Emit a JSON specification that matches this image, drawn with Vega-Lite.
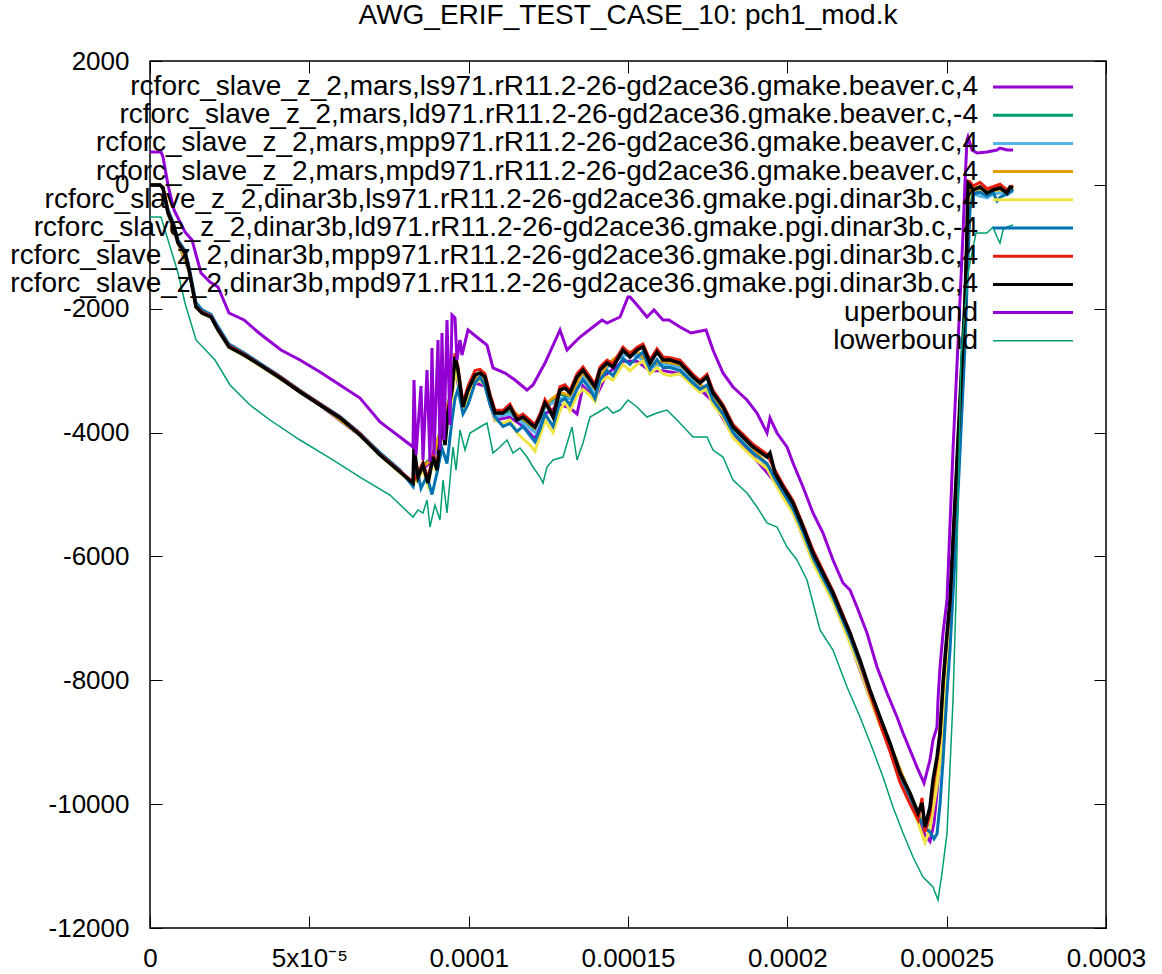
{
"$schema": "https://vega.github.io/schema/vega-lite/v6.json",
"width": 956, "height": 867,
"autosize": {"type": "none"},
"padding": {"left": 150, "top": 61, "right": 56, "bottom": 46},
"background": "white",
"title": {"text": "AWG_ERIF_TEST_CASE_10: pch1_mod.k", "fontSize": 28, "font": "Liberation Sans", "fontWeight": "normal", "color": "black", "anchor": "middle", "offset": 18},
"datasets": {
"names": [
{"k":1,"name":"rcforc_slave_z_2,mars,ls971.rR11.2-26-gd2ace36.gmake.beaver.c,4"},
{"k":2,"name":"rcforc_slave_z_2,mars,ld971.rR11.2-26-gd2ace36.gmake.beaver.c,-4"},
{"k":3,"name":"rcforc_slave_z_2,mars,mpp971.rR11.2-26-gd2ace36.gmake.beaver.c,4"},
{"k":4,"name":"rcforc_slave_z_2,mars,mpd971.rR11.2-26-gd2ace36.gmake.beaver.c,4"},
{"k":5,"name":"rcforc_slave_z_2,dinar3b,ls971.rR11.2-26-gd2ace36.gmake.pgi.dinar3b.c,4"},
{"k":6,"name":"rcforc_slave_z_2,dinar3b,ld971.rR11.2-26-gd2ace36.gmake.pgi.dinar3b.c,-4"},
{"k":7,"name":"rcforc_slave_z_2,dinar3b,mpp971.rR11.2-26-gd2ace36.gmake.pgi.dinar3b.c,4"},
{"k":8,"name":"rcforc_slave_z_2,dinar3b,mpd971.rR11.2-26-gd2ace36.gmake.pgi.dinar3b.c,4"},
{"k":9,"name":"uperbound"},
{"k":10,"name":"lowerbound"}
],
"pts": [
{"k":1,"x":0,"y":-2},{"k":1,"x":3.14e-6,"y":-2},{"k":1,"x":4.08e-6,"y":-50},{"k":1,"x":5.65e-6,"y":-460},{"k":1,"x":8.79e-6,"y":-940},{"k":1,"x":12.24e-6,"y":-1380},{"k":1,"x":14.44e-6,"y":-1970},{"k":1,"x":19.14e-6,"y":-2140},{"k":1,"x":24.79e-6,"y":-2620},{"k":1,"x":29.5e-6,"y":-2750},{"k":1,"x":40.8e-6,"y":-3120},{"k":1,"x":53.35e-6,"y":-3560},{"k":1,"x":65.9e-6,"y":-4050},{"k":1,"x":78.45e-6,"y":-4640},{"k":1,"x":82.53e-6,"y":-4830},{"k":1,"x":85.67e-6,"y":-4580},{"k":1,"x":88.81e-6,"y":-4450},{"k":1,"x":91.63e-6,"y":-3950},{"k":1,"x":94.77e-6,"y":-3400},{"k":1,"x":95.71e-6,"y":-2950},{"k":1,"x":98.22e-6,"y":-3650},{"k":1,"x":101.99e-6,"y":-3200},{"k":1,"x":105.13e-6,"y":-3250},{"k":1,"x":108.26e-6,"y":-3800},{"k":1,"x":112.97e-6,"y":-3750},{"k":1,"x":117.05e-6,"y":-3900},{"k":1,"x":120.82e-6,"y":-4100},{"k":1,"x":123.95e-6,"y":-3700},{"k":1,"x":128.66e-6,"y":-3550},{"k":1,"x":131.8e-6,"y":-3600},{"k":1,"x":134e-6,"y":-3700},{"k":1,"x":135.88e-6,"y":-3250},{"k":1,"x":139.65e-6,"y":-3450},{"k":1,"x":143.41e-6,"y":-3050},{"k":1,"x":148.43e-6,"y":-2850},{"k":1,"x":152.83e-6,"y":-2850},{"k":1,"x":156.91e-6,"y":-3000},{"k":1,"x":160.98e-6,"y":-3000},{"k":1,"x":166.32e-6,"y":-3050},{"k":1,"x":172.6e-6,"y":-3300},{"k":1,"x":176.67e-6,"y":-3500},{"k":1,"x":182.95e-6,"y":-4050},{"k":1,"x":189.23e-6,"y":-4380},{"k":1,"x":196.13e-6,"y":-4800},{"k":1,"x":201.78e-6,"y":-5280},{"k":1,"x":208.06e-6,"y":-6080},{"k":1,"x":214.33e-6,"y":-6720},{"k":1,"x":219.67e-6,"y":-7380},{"k":1,"x":225.94e-6,"y":-8290},{"k":1,"x":232.22e-6,"y":-9130},{"k":1,"x":238.5e-6,"y":-9950},{"k":1,"x":243.2e-6,"y":-10500},{"k":1,"x":244.77e-6,"y":-10600},{"k":1,"x":246.03e-6,"y":-10300},{"k":1,"x":246.97e-6,"y":-9800},{"k":1,"x":248.85e-6,"y":-8700},{"k":1,"x":251.05e-6,"y":-7200},{"k":1,"x":252.62e-6,"y":-5600},{"k":1,"x":254.19e-6,"y":-3900},{"k":1,"x":255.75e-6,"y":-2300},{"k":1,"x":256.69e-6,"y":-900},{"k":1,"x":257.32e-6,"y":-200},{"k":1,"x":258.26e-6,"y":-100},{"k":1,"x":260.46e-6,"y":-90},{"k":1,"x":262.66e-6,"y":-140},{"k":1,"x":264.54e-6,"y":-100},{"k":1,"x":266.74e-6,"y":-90},{"k":1,"x":268.93e-6,"y":-130},{"k":1,"x":270.82e-6,"y":-70},
{"k":2,"x":0,"y":-2},{"k":2,"x":3.14e-6,"y":-2},{"k":2,"x":4.08e-6,"y":-45},{"k":2,"x":5.65e-6,"y":-440},{"k":2,"x":8.79e-6,"y":-920},{"k":2,"x":12.24e-6,"y":-1360},{"k":2,"x":14.44e-6,"y":-1950},{"k":2,"x":19.14e-6,"y":-2120},{"k":2,"x":24.79e-6,"y":-2600},{"k":2,"x":29.5e-6,"y":-2730},{"k":2,"x":40.8e-6,"y":-3100},{"k":2,"x":53.35e-6,"y":-3540},{"k":2,"x":65.9e-6,"y":-4030},{"k":2,"x":78.45e-6,"y":-4620},{"k":2,"x":82.53e-6,"y":-4820},{"k":2,"x":85.67e-6,"y":-4540},{"k":2,"x":88.81e-6,"y":-4380},{"k":2,"x":91.63e-6,"y":-3870},{"k":2,"x":94.77e-6,"y":-3300},{"k":2,"x":95.71e-6,"y":-2850},{"k":2,"x":98.22e-6,"y":-3600},{"k":2,"x":101.99e-6,"y":-3120},{"k":2,"x":105.13e-6,"y":-3170},{"k":2,"x":108.26e-6,"y":-3720},{"k":2,"x":112.97e-6,"y":-3650},{"k":2,"x":117.05e-6,"y":-3800},{"k":2,"x":120.82e-6,"y":-3950},{"k":2,"x":123.95e-6,"y":-3580},{"k":2,"x":128.66e-6,"y":-3380},{"k":2,"x":131.8e-6,"y":-3420},{"k":2,"x":135.88e-6,"y":-3050},{"k":2,"x":139.65e-6,"y":-3300},{"k":2,"x":143.41e-6,"y":-2920},{"k":2,"x":148.43e-6,"y":-2720},{"k":2,"x":152.83e-6,"y":-2710},{"k":2,"x":156.91e-6,"y":-2920},{"k":2,"x":160.98e-6,"y":-2870},{"k":2,"x":166.32e-6,"y":-2920},{"k":2,"x":172.6e-6,"y":-3230},{"k":2,"x":176.67e-6,"y":-3400},{"k":2,"x":182.95e-6,"y":-3930},{"k":2,"x":189.23e-6,"y":-4260},{"k":2,"x":196.13e-6,"y":-4680},{"k":2,"x":201.78e-6,"y":-5160},{"k":2,"x":208.06e-6,"y":-5970},{"k":2,"x":214.33e-6,"y":-6610},{"k":2,"x":219.67e-6,"y":-7260},{"k":2,"x":225.94e-6,"y":-8180},{"k":2,"x":232.22e-6,"y":-9040},{"k":2,"x":238.5e-6,"y":-9850},{"k":2,"x":243.2e-6,"y":-10380},{"k":2,"x":244.77e-6,"y":-10250},{"k":2,"x":246.97e-6,"y":-9500},{"k":2,"x":248.85e-6,"y":-8300},{"k":2,"x":251.05e-6,"y":-7000},{"k":2,"x":252.62e-6,"y":-5400},{"k":2,"x":254.19e-6,"y":-3700},{"k":2,"x":255.75e-6,"y":-2100},{"k":2,"x":256.69e-6,"y":-500},{"k":2,"x":257.32e-6,"y":-100},{"k":2,"x":258.26e-6,"y":-90},{"k":2,"x":260.46e-6,"y":-70},{"k":2,"x":262.66e-6,"y":-120},{"k":2,"x":264.54e-6,"y":-90},{"k":2,"x":266.74e-6,"y":-70},{"k":2,"x":268.93e-6,"y":-120},{"k":2,"x":270.82e-6,"y":-50},
{"k":3,"x":0,"y":-2},{"k":3,"x":3.14e-6,"y":-2},{"k":3,"x":4.08e-6,"y":-50},{"k":3,"x":5.65e-6,"y":-450},{"k":3,"x":8.79e-6,"y":-930},{"k":3,"x":12.24e-6,"y":-1370},{"k":3,"x":14.44e-6,"y":-1960},{"k":3,"x":19.14e-6,"y":-2130},{"k":3,"x":24.79e-6,"y":-2610},{"k":3,"x":29.5e-6,"y":-2740},{"k":3,"x":40.8e-6,"y":-3110},{"k":3,"x":53.35e-6,"y":-3550},{"k":3,"x":65.9e-6,"y":-4040},{"k":3,"x":78.45e-6,"y":-4630},{"k":3,"x":82.53e-6,"y":-4820},{"k":3,"x":85.67e-6,"y":-4550},{"k":3,"x":88.81e-6,"y":-4420},{"k":3,"x":91.63e-6,"y":-3900},{"k":3,"x":94.77e-6,"y":-3350},{"k":3,"x":95.71e-6,"y":-2900},{"k":3,"x":98.22e-6,"y":-3620},{"k":3,"x":101.99e-6,"y":-3150},{"k":3,"x":105.13e-6,"y":-3200},{"k":3,"x":108.26e-6,"y":-3750},{"k":3,"x":112.97e-6,"y":-3700},{"k":3,"x":117.05e-6,"y":-3850},{"k":3,"x":120.82e-6,"y":-4000},{"k":3,"x":123.95e-6,"y":-3600},{"k":3,"x":128.66e-6,"y":-3450},{"k":3,"x":131.8e-6,"y":-3450},{"k":3,"x":135.88e-6,"y":-3100},{"k":3,"x":139.65e-6,"y":-3350},{"k":3,"x":143.41e-6,"y":-2950},{"k":3,"x":148.43e-6,"y":-2750},{"k":3,"x":152.83e-6,"y":-2750},{"k":3,"x":156.91e-6,"y":-2950},{"k":3,"x":160.98e-6,"y":-2900},{"k":3,"x":166.32e-6,"y":-2950},{"k":3,"x":172.6e-6,"y":-3250},{"k":3,"x":176.67e-6,"y":-3420},{"k":3,"x":182.95e-6,"y":-3950},{"k":3,"x":189.23e-6,"y":-4280},{"k":3,"x":196.13e-6,"y":-4700},{"k":3,"x":201.78e-6,"y":-5180},{"k":3,"x":208.06e-6,"y":-5990},{"k":3,"x":214.33e-6,"y":-6630},{"k":3,"x":219.67e-6,"y":-7280},{"k":3,"x":225.94e-6,"y":-8200},{"k":3,"x":232.22e-6,"y":-9060},{"k":3,"x":238.5e-6,"y":-9870},{"k":3,"x":243.2e-6,"y":-10400},{"k":3,"x":244.77e-6,"y":-10300},{"k":3,"x":246.97e-6,"y":-9600},{"k":3,"x":248.85e-6,"y":-8500},{"k":3,"x":251.05e-6,"y":-7200},{"k":3,"x":252.62e-6,"y":-5500},{"k":3,"x":254.19e-6,"y":-3800},{"k":3,"x":255.75e-6,"y":-2200},{"k":3,"x":256.69e-6,"y":-800},{"k":3,"x":257.32e-6,"y":-200},{"k":3,"x":258.26e-6,"y":-150},{"k":3,"x":260.46e-6,"y":-180},{"k":3,"x":262.66e-6,"y":-210},{"k":3,"x":264.54e-6,"y":-150},{"k":3,"x":266.74e-6,"y":-130},{"k":3,"x":268.93e-6,"y":-160},{"k":3,"x":270.82e-6,"y":-100},
{"k":4,"x":0,"y":-2},{"k":4,"x":3.14e-6,"y":-2},{"k":4,"x":4.08e-6,"y":-50},{"k":4,"x":5.65e-6,"y":-450},{"k":4,"x":8.79e-6,"y":-930},{"k":4,"x":12.24e-6,"y":-1370},{"k":4,"x":14.44e-6,"y":-1960},{"k":4,"x":19.14e-6,"y":-2130},{"k":4,"x":24.79e-6,"y":-2610},{"k":4,"x":29.5e-6,"y":-2740},{"k":4,"x":40.8e-6,"y":-3110},{"k":4,"x":53.35e-6,"y":-3550},{"k":4,"x":65.9e-6,"y":-4040},{"k":4,"x":78.45e-6,"y":-4630},{"k":4,"x":82.53e-6,"y":-4830},{"k":4,"x":85.67e-6,"y":-4560},{"k":4,"x":88.81e-6,"y":-4400},{"k":4,"x":91.63e-6,"y":-3880},{"k":4,"x":94.77e-6,"y":-3320},{"k":4,"x":95.71e-6,"y":-2820},{"k":4,"x":98.22e-6,"y":-3600},{"k":4,"x":101.99e-6,"y":-3100},{"k":4,"x":105.13e-6,"y":-3150},{"k":4,"x":108.26e-6,"y":-3700},{"k":4,"x":112.97e-6,"y":-3620},{"k":4,"x":117.05e-6,"y":-3780},{"k":4,"x":120.82e-6,"y":-3930},{"k":4,"x":123.95e-6,"y":-3550},{"k":4,"x":128.66e-6,"y":-3350},{"k":4,"x":131.8e-6,"y":-3400},{"k":4,"x":135.88e-6,"y":-3020},{"k":4,"x":139.65e-6,"y":-3290},{"k":4,"x":143.41e-6,"y":-2900},{"k":4,"x":148.43e-6,"y":-2700},{"k":4,"x":152.83e-6,"y":-2690},{"k":4,"x":156.91e-6,"y":-2900},{"k":4,"x":160.98e-6,"y":-2850},{"k":4,"x":166.32e-6,"y":-2900},{"k":4,"x":172.6e-6,"y":-3220},{"k":4,"x":176.67e-6,"y":-3380},{"k":4,"x":182.95e-6,"y":-3920},{"k":4,"x":189.23e-6,"y":-4250},{"k":4,"x":196.13e-6,"y":-4670},{"k":4,"x":201.78e-6,"y":-5150},{"k":4,"x":208.06e-6,"y":-5960},{"k":4,"x":214.33e-6,"y":-6600},{"k":4,"x":219.67e-6,"y":-7250},{"k":4,"x":225.94e-6,"y":-8170},{"k":4,"x":232.22e-6,"y":-9030},{"k":4,"x":238.5e-6,"y":-9840},{"k":4,"x":243.2e-6,"y":-10400},{"k":4,"x":244.77e-6,"y":-10200},{"k":4,"x":246.97e-6,"y":-9400},{"k":4,"x":248.85e-6,"y":-8200},{"k":4,"x":251.05e-6,"y":-6900},{"k":4,"x":252.62e-6,"y":-5300},{"k":4,"x":254.19e-6,"y":-3600},{"k":4,"x":255.75e-6,"y":-2000},{"k":4,"x":256.69e-6,"y":-300},{"k":4,"x":257.32e-6,"y":-50},{"k":4,"x":258.26e-6,"y":-60},{"k":4,"x":260.46e-6,"y":-30},{"k":4,"x":262.66e-6,"y":-100},{"k":4,"x":264.54e-6,"y":-60},{"k":4,"x":266.74e-6,"y":-40},{"k":4,"x":268.93e-6,"y":-110},{"k":4,"x":270.82e-6,"y":-40},
{"k":5,"x":0,"y":-2},{"k":5,"x":3.14e-6,"y":-2},{"k":5,"x":4.08e-6,"y":-60},{"k":5,"x":5.65e-6,"y":-460},{"k":5,"x":7.53e-6,"y":-690},{"k":5,"x":8.79e-6,"y":-950},{"k":5,"x":10.98e-6,"y":-1110},{"k":5,"x":12.24e-6,"y":-1390},{"k":5,"x":14.44e-6,"y":-1980},{"k":5,"x":16.32e-6,"y":-2080},{"k":5,"x":19.14e-6,"y":-2140},{"k":5,"x":21.34e-6,"y":-2350},{"k":5,"x":24.79e-6,"y":-2630},{"k":5,"x":29.5e-6,"y":-2760},{"k":5,"x":34.52e-6,"y":-2920},{"k":5,"x":40.8e-6,"y":-3130},{"k":5,"x":47.07e-6,"y":-3350},{"k":5,"x":53.35e-6,"y":-3560},{"k":5,"x":59.62e-6,"y":-3770},{"k":5,"x":65.9e-6,"y":-4050},{"k":5,"x":72.18e-6,"y":-4370},{"k":5,"x":78.45e-6,"y":-4650},{"k":5,"x":82.53e-6,"y":-4830},{"k":5,"x":84.1e-6,"y":-4750},{"k":5,"x":85.67e-6,"y":-4600},{"k":5,"x":87.24e-6,"y":-4850},{"k":5,"x":88.81e-6,"y":-4450},{"k":5,"x":90.06e-6,"y":-4650},{"k":5,"x":91.63e-6,"y":-3950},{"k":5,"x":93.51e-6,"y":-3800},{"k":5,"x":94.77e-6,"y":-3450},{"k":5,"x":95.71e-6,"y":-3000},{"k":5,"x":96.65e-6,"y":-3150},{"k":5,"x":98.22e-6,"y":-3650},{"k":5,"x":99.79e-6,"y":-3450},{"k":5,"x":101.99e-6,"y":-3200},{"k":5,"x":103.56e-6,"y":-3150},{"k":5,"x":105.13e-6,"y":-3250},{"k":5,"x":106.7e-6,"y":-3500},{"k":5,"x":108.26e-6,"y":-3800},{"k":5,"x":110.78e-6,"y":-3850},{"k":5,"x":112.97e-6,"y":-3800},{"k":5,"x":115.17e-6,"y":-4000},{"k":5,"x":117.05e-6,"y":-4100},{"k":5,"x":119.25e-6,"y":-4200},{"k":5,"x":120.82e-6,"y":-4300},{"k":5,"x":122.39e-6,"y":-4050},{"k":5,"x":123.95e-6,"y":-3800},{"k":5,"x":126.47e-6,"y":-4000},{"k":5,"x":128.66e-6,"y":-3650},{"k":5,"x":130.23e-6,"y":-3500},{"k":5,"x":131.8e-6,"y":-3650},{"k":5,"x":134e-6,"y":-3400},{"k":5,"x":135.88e-6,"y":-3300},{"k":5,"x":138.08e-6,"y":-3400},{"k":5,"x":139.65e-6,"y":-3500},{"k":5,"x":141.21e-6,"y":-3200},{"k":5,"x":143.41e-6,"y":-3100},{"k":5,"x":145.29e-6,"y":-3150},{"k":5,"x":148.43e-6,"y":-2900},{"k":5,"x":150.63e-6,"y":-3000},{"k":5,"x":152.83e-6,"y":-2900},{"k":5,"x":154.71e-6,"y":-2850},{"k":5,"x":156.91e-6,"y":-3050},{"k":5,"x":159.1e-6,"y":-2950},{"k":5,"x":160.98e-6,"y":-3050},{"k":5,"x":163.18e-6,"y":-3080},{"k":5,"x":166.32e-6,"y":-3050},{"k":5,"x":170.4e-6,"y":-3250},{"k":5,"x":172.6e-6,"y":-3350},{"k":5,"x":174.79e-6,"y":-3300},{"k":5,"x":176.67e-6,"y":-3550},{"k":5,"x":179.81e-6,"y":-3750},{"k":5,"x":182.95e-6,"y":-4080},{"k":5,"x":186.09e-6,"y":-4250},{"k":5,"x":189.23e-6,"y":-4400},{"k":5,"x":193.62e-6,"y":-4580},{"k":5,"x":196.13e-6,"y":-4820},{"k":5,"x":198.64e-6,"y":-5050},{"k":5,"x":201.78e-6,"y":-5300},{"k":5,"x":204.92e-6,"y":-5680},{"k":5,"x":208.06e-6,"y":-6100},{"k":5,"x":211.19e-6,"y":-6420},{"k":5,"x":214.33e-6,"y":-6740},{"k":5,"x":216.53e-6,"y":-7000},{"k":5,"x":219.67e-6,"y":-7400},{"k":5,"x":222.81e-6,"y":-7820},{"k":5,"x":225.94e-6,"y":-8300},{"k":5,"x":229.08e-6,"y":-8720},{"k":5,"x":232.22e-6,"y":-9120},{"k":5,"x":235.36e-6,"y":-9620},{"k":5,"x":238.5e-6,"y":-9960},{"k":5,"x":241.01e-6,"y":-10300},{"k":5,"x":243.2e-6,"y":-10620},{"k":5,"x":244.77e-6,"y":-10400},{"k":5,"x":245.71e-6,"y":-10100},{"k":5,"x":246.97e-6,"y":-9700},{"k":5,"x":247.91e-6,"y":-9300},{"k":5,"x":248.85e-6,"y":-8600},{"k":5,"x":250.11e-6,"y":-7700},{"k":5,"x":251.05e-6,"y":-7100},{"k":5,"x":252.62e-6,"y":-5600},{"k":5,"x":254.19e-6,"y":-3900},{"k":5,"x":255.75e-6,"y":-2300},{"k":5,"x":256.69e-6,"y":-900},{"k":5,"x":257.32e-6,"y":-250},{"k":5,"x":258.26e-6,"y":-100},{"k":5,"x":260.46e-6,"y":-60},{"k":5,"x":262.66e-6,"y":-150},{"k":5,"x":264.54e-6,"y":-100},{"k":5,"x":266.74e-6,"y":-80},{"k":5,"x":268.93e-6,"y":-120},{"k":5,"x":270.82e-6,"y":-60},
{"k":6,"x":0,"y":-2},{"k":6,"x":3.14e-6,"y":-2},{"k":6,"x":4.08e-6,"y":-40},{"k":6,"x":5.65e-6,"y":-400},{"k":6,"x":7.53e-6,"y":-640},{"k":6,"x":8.79e-6,"y":-890},{"k":6,"x":10.98e-6,"y":-1060},{"k":6,"x":12.24e-6,"y":-1320},{"k":6,"x":14.44e-6,"y":-1900},{"k":6,"x":16.32e-6,"y":-2020},{"k":6,"x":19.14e-6,"y":-2090},{"k":6,"x":21.34e-6,"y":-2290},{"k":6,"x":24.79e-6,"y":-2570},{"k":6,"x":29.5e-6,"y":-2710},{"k":6,"x":34.52e-6,"y":-2880},{"k":6,"x":40.8e-6,"y":-3090},{"k":6,"x":47.07e-6,"y":-3320},{"k":6,"x":53.35e-6,"y":-3530},{"k":6,"x":59.62e-6,"y":-3740},{"k":6,"x":65.9e-6,"y":-4010},{"k":6,"x":72.18e-6,"y":-4330},{"k":6,"x":78.45e-6,"y":-4600},{"k":6,"x":82.53e-6,"y":-4870},{"k":6,"x":83.47e-6,"y":-4500},{"k":6,"x":85.04e-6,"y":-4900},{"k":6,"x":86.93e-6,"y":-4700},{"k":6,"x":88.49e-6,"y":-5000},{"k":6,"x":90.06e-6,"y":-4650},{"k":6,"x":91.63e-6,"y":-4250},{"k":6,"x":93.2e-6,"y":-4500},{"k":6,"x":94.77e-6,"y":-3800},{"k":6,"x":95.71e-6,"y":-3450},{"k":6,"x":96.65e-6,"y":-3300},{"k":6,"x":98.22e-6,"y":-3700},{"k":6,"x":99.79e-6,"y":-3550},{"k":6,"x":101.99e-6,"y":-3200},{"k":6,"x":103.56e-6,"y":-3100},{"k":6,"x":105.13e-6,"y":-3250},{"k":6,"x":106.7e-6,"y":-3550},{"k":6,"x":108.26e-6,"y":-3750},{"k":6,"x":110.78e-6,"y":-3900},{"k":6,"x":112.97e-6,"y":-3850},{"k":6,"x":115.17e-6,"y":-3980},{"k":6,"x":117.05e-6,"y":-3900},{"k":6,"x":119.25e-6,"y":-4050},{"k":6,"x":120.82e-6,"y":-4150},{"k":6,"x":122.39e-6,"y":-3950},{"k":6,"x":123.95e-6,"y":-3700},{"k":6,"x":126.47e-6,"y":-3900},{"k":6,"x":128.66e-6,"y":-3500},{"k":6,"x":130.23e-6,"y":-3450},{"k":6,"x":131.8e-6,"y":-3550},{"k":6,"x":134e-6,"y":-3300},{"k":6,"x":135.88e-6,"y":-3150},{"k":6,"x":138.08e-6,"y":-3300},{"k":6,"x":139.65e-6,"y":-3450},{"k":6,"x":141.21e-6,"y":-3150},{"k":6,"x":143.41e-6,"y":-3000},{"k":6,"x":145.29e-6,"y":-3080},{"k":6,"x":148.43e-6,"y":-2800},{"k":6,"x":150.63e-6,"y":-2900},{"k":6,"x":152.83e-6,"y":-2780},{"k":6,"x":154.71e-6,"y":-2700},{"k":6,"x":156.91e-6,"y":-2980},{"k":6,"x":159.1e-6,"y":-2820},{"k":6,"x":160.98e-6,"y":-2950},{"k":6,"x":163.18e-6,"y":-2950},{"k":6,"x":166.32e-6,"y":-3000},{"k":6,"x":170.4e-6,"y":-3200},{"k":6,"x":172.6e-6,"y":-3300},{"k":6,"x":174.79e-6,"y":-3230},{"k":6,"x":176.67e-6,"y":-3480},{"k":6,"x":179.81e-6,"y":-3700},{"k":6,"x":182.95e-6,"y":-4000},{"k":6,"x":186.09e-6,"y":-4170},{"k":6,"x":189.23e-6,"y":-4330},{"k":6,"x":193.62e-6,"y":-4500},{"k":6,"x":196.13e-6,"y":-4750},{"k":6,"x":198.64e-6,"y":-4960},{"k":6,"x":201.78e-6,"y":-5230},{"k":6,"x":204.92e-6,"y":-5600},{"k":6,"x":208.06e-6,"y":-6020},{"k":6,"x":211.19e-6,"y":-6350},{"k":6,"x":214.33e-6,"y":-6660},{"k":6,"x":216.53e-6,"y":-6930},{"k":6,"x":219.67e-6,"y":-7310},{"k":6,"x":222.81e-6,"y":-7740},{"k":6,"x":225.94e-6,"y":-8220},{"k":6,"x":229.08e-6,"y":-8660},{"k":6,"x":232.22e-6,"y":-9080},{"k":6,"x":235.36e-6,"y":-9560},{"k":6,"x":238.5e-6,"y":-9900},{"k":6,"x":241.01e-6,"y":-10200},{"k":6,"x":243.2e-6,"y":-10380},{"k":6,"x":244.77e-6,"y":-10450},{"k":6,"x":246.03e-6,"y":-10560},{"k":6,"x":246.97e-6,"y":-10480},{"k":6,"x":247.91e-6,"y":-10000},{"k":6,"x":248.85e-6,"y":-9300},{"k":6,"x":250.11e-6,"y":-8200},{"k":6,"x":251.05e-6,"y":-7500},{"k":6,"x":252.62e-6,"y":-6000},{"k":6,"x":254.19e-6,"y":-4300},{"k":6,"x":255.75e-6,"y":-2600},{"k":6,"x":256.69e-6,"y":-1200},{"k":6,"x":257.32e-6,"y":-400},{"k":6,"x":258.26e-6,"y":-150},{"k":6,"x":260.46e-6,"y":-120},{"k":6,"x":262.66e-6,"y":-180},{"k":6,"x":264.54e-6,"y":-120},{"k":6,"x":265.8e-6,"y":-260},{"k":6,"x":266.74e-6,"y":-200},{"k":6,"x":268.93e-6,"y":-150},{"k":6,"x":270.82e-6,"y":-80},
{"k":7,"x":0,"y":-2},{"k":7,"x":3.14e-6,"y":-2},{"k":7,"x":4.08e-6,"y":-40},{"k":7,"x":5.65e-6,"y":-440},{"k":7,"x":7.53e-6,"y":-670},{"k":7,"x":8.79e-6,"y":-930},{"k":7,"x":10.98e-6,"y":-1090},{"k":7,"x":12.24e-6,"y":-1360},{"k":7,"x":14.44e-6,"y":-1960},{"k":7,"x":16.32e-6,"y":-2050},{"k":7,"x":19.14e-6,"y":-2120},{"k":7,"x":21.34e-6,"y":-2330},{"k":7,"x":24.79e-6,"y":-2600},{"k":7,"x":29.5e-6,"y":-2730},{"k":7,"x":34.52e-6,"y":-2900},{"k":7,"x":40.8e-6,"y":-3100},{"k":7,"x":47.07e-6,"y":-3330},{"k":7,"x":53.35e-6,"y":-3540},{"k":7,"x":59.62e-6,"y":-3750},{"k":7,"x":65.9e-6,"y":-4020},{"k":7,"x":72.18e-6,"y":-4350},{"k":7,"x":78.45e-6,"y":-4620},{"k":7,"x":82.53e-6,"y":-4800},{"k":7,"x":84.1e-6,"y":-4650},{"k":7,"x":85.67e-6,"y":-4480},{"k":7,"x":87.24e-6,"y":-4750},{"k":7,"x":88.81e-6,"y":-4350},{"k":7,"x":90.06e-6,"y":-4550},{"k":7,"x":91.63e-6,"y":-3800},{"k":7,"x":93.51e-6,"y":-3630},{"k":7,"x":94.77e-6,"y":-3250},{"k":7,"x":95.71e-6,"y":-2720},{"k":7,"x":96.65e-6,"y":-2940},{"k":7,"x":98.22e-6,"y":-3530},{"k":7,"x":99.79e-6,"y":-3250},{"k":7,"x":101.99e-6,"y":-3000},{"k":7,"x":103.56e-6,"y":-2980},{"k":7,"x":105.13e-6,"y":-3050},{"k":7,"x":106.7e-6,"y":-3380},{"k":7,"x":108.26e-6,"y":-3640},{"k":7,"x":110.78e-6,"y":-3640},{"k":7,"x":112.97e-6,"y":-3540},{"k":7,"x":115.17e-6,"y":-3760},{"k":7,"x":117.05e-6,"y":-3700},{"k":7,"x":119.25e-6,"y":-3800},{"k":7,"x":120.82e-6,"y":-3870},{"k":7,"x":122.39e-6,"y":-3700},{"k":7,"x":123.95e-6,"y":-3470},{"k":7,"x":126.47e-6,"y":-3700},{"k":7,"x":128.66e-6,"y":-3260},{"k":7,"x":130.23e-6,"y":-3230},{"k":7,"x":131.8e-6,"y":-3320},{"k":7,"x":134e-6,"y":-3050},{"k":7,"x":135.88e-6,"y":-2940},{"k":7,"x":138.08e-6,"y":-3100},{"k":7,"x":139.65e-6,"y":-3220},{"k":7,"x":141.21e-6,"y":-2940},{"k":7,"x":143.41e-6,"y":-2830},{"k":7,"x":145.29e-6,"y":-2890},{"k":7,"x":148.43e-6,"y":-2620},{"k":7,"x":150.63e-6,"y":-2730},{"k":7,"x":152.83e-6,"y":-2620},{"k":7,"x":154.71e-6,"y":-2570},{"k":7,"x":156.91e-6,"y":-2830},{"k":7,"x":159.1e-6,"y":-2650},{"k":7,"x":160.98e-6,"y":-2780},{"k":7,"x":163.18e-6,"y":-2790},{"k":7,"x":166.32e-6,"y":-2830},{"k":7,"x":170.4e-6,"y":-3060},{"k":7,"x":172.6e-6,"y":-3160},{"k":7,"x":174.79e-6,"y":-3060},{"k":7,"x":176.67e-6,"y":-3320},{"k":7,"x":179.81e-6,"y":-3550},{"k":7,"x":182.95e-6,"y":-3870},{"k":7,"x":186.09e-6,"y":-4030},{"k":7,"x":189.23e-6,"y":-4190},{"k":7,"x":193.62e-6,"y":-4350},{"k":7,"x":196.13e-6,"y":-4610},{"k":7,"x":198.64e-6,"y":-4840},{"k":7,"x":201.78e-6,"y":-5100},{"k":7,"x":204.92e-6,"y":-5490},{"k":7,"x":208.06e-6,"y":-5900},{"k":7,"x":211.19e-6,"y":-6230},{"k":7,"x":214.33e-6,"y":-6560},{"k":7,"x":216.53e-6,"y":-6830},{"k":7,"x":219.67e-6,"y":-7230},{"k":7,"x":222.81e-6,"y":-7700},{"k":7,"x":225.94e-6,"y":-8220},{"k":7,"x":229.08e-6,"y":-8700},{"k":7,"x":232.22e-6,"y":-9150},{"k":7,"x":235.36e-6,"y":-9650},{"k":7,"x":238.5e-6,"y":-10000},{"k":7,"x":241.01e-6,"y":-10250},{"k":7,"x":242.26e-6,"y":-9900},{"k":7,"x":243.2e-6,"y":-10450},{"k":7,"x":244.77e-6,"y":-10150},{"k":7,"x":245.71e-6,"y":-9700},{"k":7,"x":246.97e-6,"y":-9300},{"k":7,"x":247.91e-6,"y":-8900},{"k":7,"x":248.85e-6,"y":-8100},{"k":7,"x":250.11e-6,"y":-7300},{"k":7,"x":251.05e-6,"y":-6750},{"k":7,"x":252.62e-6,"y":-5150},{"k":7,"x":254.19e-6,"y":-3550},{"k":7,"x":255.75e-6,"y":-1900},{"k":7,"x":256.38e-6,"y":-800},{"k":7,"x":256.69e-6,"y":60},{"k":7,"x":257.32e-6,"y":50},{"k":7,"x":258.26e-6,"y":-20},{"k":7,"x":260.46e-6,"y":40},{"k":7,"x":262.66e-6,"y":-60},{"k":7,"x":264.54e-6,"y":-30},{"k":7,"x":266.74e-6,"y":10},{"k":7,"x":268.93e-6,"y":-80},{"k":7,"x":270.82e-6,"y":-10},
{"k":8,"x":0,"y":-2},{"k":8,"x":3.14e-6,"y":-2},{"k":8,"x":4.08e-6,"y":-51},{"k":8,"x":5.65e-6,"y":-455},{"k":8,"x":7.53e-6,"y":-681},{"k":8,"x":8.79e-6,"y":-939},{"k":8,"x":10.98e-6,"y":-1100},{"k":8,"x":12.24e-6,"y":-1375},{"k":8,"x":14.44e-6,"y":-1972},{"k":8,"x":16.32e-6,"y":-2069},{"k":8,"x":19.14e-6,"y":-2134},{"k":8,"x":21.34e-6,"y":-2343},{"k":8,"x":24.79e-6,"y":-2618},{"k":8,"x":29.5e-6,"y":-2748},{"k":8,"x":34.52e-6,"y":-2909},{"k":8,"x":40.8e-6,"y":-3119},{"k":8,"x":47.07e-6,"y":-3345},{"k":8,"x":53.35e-6,"y":-3555},{"k":8,"x":59.62e-6,"y":-3765},{"k":8,"x":65.9e-6,"y":-4039},{"k":8,"x":72.18e-6,"y":-4362},{"k":8,"x":78.45e-6,"y":-4637},{"k":8,"x":82.53e-6,"y":-4815},{"k":8,"x":82.85e-6,"y":-4233},{"k":8,"x":84.1e-6,"y":-4718},{"k":8,"x":85.67e-6,"y":-4524},{"k":8,"x":87.24e-6,"y":-4815},{"k":8,"x":88.81e-6,"y":-4395},{"k":8,"x":90.06e-6,"y":-4605},{"k":8,"x":91.63e-6,"y":-3846},{"k":8,"x":92.57e-6,"y":-4201},{"k":8,"x":93.51e-6,"y":-3684},{"k":8,"x":94.77e-6,"y":-3313},{"k":8,"x":95.71e-6,"y":-2780},{"k":8,"x":96.65e-6,"y":-2990},{"k":8,"x":98.22e-6,"y":-3587},{"k":8,"x":99.79e-6,"y":-3313},{"k":8,"x":101.99e-6,"y":-3071},{"k":8,"x":103.56e-6,"y":-3038},{"k":8,"x":105.13e-6,"y":-3103},{"k":8,"x":106.7e-6,"y":-3426},{"k":8,"x":108.26e-6,"y":-3684},{"k":8,"x":110.78e-6,"y":-3684},{"k":8,"x":112.97e-6,"y":-3587},{"k":8,"x":115.17e-6,"y":-3797},{"k":8,"x":117.05e-6,"y":-3749},{"k":8,"x":119.25e-6,"y":-3846},{"k":8,"x":120.82e-6,"y":-3910},{"k":8,"x":122.39e-6,"y":-3749},{"k":8,"x":123.95e-6,"y":-3523},{"k":8,"x":124.89e-6,"y":-3587},{"k":8,"x":126.47e-6,"y":-3749},{"k":8,"x":128.66e-6,"y":-3313},{"k":8,"x":130.23e-6,"y":-3280},{"k":8,"x":131.8e-6,"y":-3361},{"k":8,"x":134e-6,"y":-3103},{"k":8,"x":135.88e-6,"y":-2990},{"k":8,"x":138.08e-6,"y":-3151},{"k":8,"x":139.65e-6,"y":-3264},{"k":8,"x":141.21e-6,"y":-2990},{"k":8,"x":143.41e-6,"y":-2877},{"k":8,"x":145.29e-6,"y":-2941},{"k":8,"x":148.43e-6,"y":-2667},{"k":8,"x":150.63e-6,"y":-2780},{"k":8,"x":152.83e-6,"y":-2667},{"k":8,"x":154.71e-6,"y":-2618},{"k":8,"x":156.91e-6,"y":-2877},{"k":8,"x":159.1e-6,"y":-2699},{"k":8,"x":160.98e-6,"y":-2828},{"k":8,"x":163.18e-6,"y":-2828},{"k":8,"x":166.32e-6,"y":-2877},{"k":8,"x":170.4e-6,"y":-3103},{"k":8,"x":172.6e-6,"y":-3200},{"k":8,"x":174.79e-6,"y":-3103},{"k":8,"x":176.67e-6,"y":-3361},{"k":8,"x":179.81e-6,"y":-3587},{"k":8,"x":182.95e-6,"y":-3910},{"k":8,"x":186.09e-6,"y":-4072},{"k":8,"x":189.23e-6,"y":-4233},{"k":8,"x":193.62e-6,"y":-4395},{"k":8,"x":194.56e-6,"y":-4330},{"k":8,"x":196.13e-6,"y":-4653},{"k":8,"x":198.64e-6,"y":-4879},{"k":8,"x":201.78e-6,"y":-5137},{"k":8,"x":204.92e-6,"y":-5525},{"k":8,"x":208.06e-6,"y":-5945},{"k":8,"x":211.19e-6,"y":-6268},{"k":8,"x":214.33e-6,"y":-6591},{"k":8,"x":216.53e-6,"y":-6865},{"k":8,"x":219.67e-6,"y":-7237},{"k":8,"x":222.81e-6,"y":-7673},{"k":8,"x":225.94e-6,"y":-8157},{"k":8,"x":229.08e-6,"y":-8593},{"k":8,"x":232.22e-6,"y":-9013},{"k":8,"x":235.36e-6,"y":-9497},{"k":8,"x":238.5e-6,"y":-9820},{"k":8,"x":241.01e-6,"y":-10143},{"k":8,"x":242.26e-6,"y":-9982},{"k":8,"x":243.2e-6,"y":-10369},{"k":8,"x":244.77e-6,"y":-10046},{"k":8,"x":245.71e-6,"y":-9610},{"k":8,"x":246.97e-6,"y":-9239},{"k":8,"x":247.91e-6,"y":-8851},{"k":8,"x":248.85e-6,"y":-8044},{"k":8,"x":250.11e-6,"y":-7237},{"k":8,"x":251.05e-6,"y":-6704},{"k":8,"x":252.62e-6,"y":-5089},{"k":8,"x":254.19e-6,"y":-3474},{"k":8,"x":255.75e-6,"y":-1859},{"k":8,"x":256.38e-6,"y":-777},{"k":8,"x":256.69e-6,"y":30},{"k":8,"x":257.32e-6,"y":-2},{"k":8,"x":258.26e-6,"y":-83},{"k":8,"x":260.46e-6,"y":-35},{"k":8,"x":262.66e-6,"y":-132},{"k":8,"x":264.54e-6,"y":-83},{"k":8,"x":266.74e-6,"y":-51},{"k":8,"x":268.93e-6,"y":-132},{"k":8,"x":269.88e-6,"y":-35},{"k":8,"x":270.82e-6,"y":-51},
{"k":9,"x":0,"y":531},{"k":9,"x":3.45e-6,"y":531},{"k":9,"x":4.08e-6,"y":450},{"k":9,"x":5.65e-6,"y":-2},{"k":9,"x":7.53e-6,"y":-406},{"k":9,"x":10.98e-6,"y":-761},{"k":9,"x":13.18e-6,"y":-890},{"k":9,"x":16e-6,"y":-1423},{"k":9,"x":18.83e-6,"y":-1569},{"k":9,"x":21.34e-6,"y":-1650},{"k":9,"x":24.79e-6,"y":-2069},{"k":9,"x":29.5e-6,"y":-2182},{"k":9,"x":34.21e-6,"y":-2392},{"k":9,"x":41.11e-6,"y":-2667},{"k":9,"x":47.07e-6,"y":-2828},{"k":9,"x":53.35e-6,"y":-3022},{"k":9,"x":59.62e-6,"y":-3232},{"k":9,"x":65.9e-6,"y":-3442},{"k":9,"x":72.18e-6,"y":-3829},{"k":9,"x":78.45e-6,"y":-4072},{"k":9,"x":82.53e-6,"y":-4233},{"k":9,"x":82.85e-6,"y":-3151},{"k":9,"x":83.47e-6,"y":-4362},{"k":9,"x":85.04e-6,"y":-3248},{"k":9,"x":85.67e-6,"y":-4443},{"k":9,"x":86.93e-6,"y":-2990},{"k":9,"x":87.87e-6,"y":-4475},{"k":9,"x":88.49e-6,"y":-2635},{"k":9,"x":89.12e-6,"y":-4362},{"k":9,"x":90.38e-6,"y":-2505},{"k":9,"x":91e-6,"y":-4282},{"k":9,"x":91.63e-6,"y":-2392},{"k":9,"x":92.26e-6,"y":-4120},{"k":9,"x":93.2e-6,"y":-2182},{"k":9,"x":94.14e-6,"y":-3878},{"k":9,"x":94.77e-6,"y":-2102},{"k":9,"x":95.71e-6,"y":-2150},{"k":9,"x":96.34e-6,"y":-2828},{"k":9,"x":97.28e-6,"y":-2505},{"k":9,"x":97.91e-6,"y":-2748},{"k":9,"x":99.79e-6,"y":-2343},{"k":9,"x":102.93e-6,"y":-2473},{"k":9,"x":105.75e-6,"y":-2586},{"k":9,"x":107.64e-6,"y":-2957},{"k":9,"x":111.4e-6,"y":-3038},{"k":9,"x":114.54e-6,"y":-3151},{"k":9,"x":118.31e-6,"y":-3313},{"k":9,"x":120.19e-6,"y":-3232},{"k":9,"x":123.95e-6,"y":-2877},{"k":9,"x":128.66e-6,"y":-2343},{"k":9,"x":130.86e-6,"y":-2667},{"k":9,"x":134.94e-6,"y":-2457},{"k":9,"x":139.02e-6,"y":-2295},{"k":9,"x":141.84e-6,"y":-2182},{"k":9,"x":143.41e-6,"y":-2231},{"k":9,"x":147.49e-6,"y":-2134},{"k":9,"x":150e-6,"y":-1811},{"k":9,"x":150.63e-6,"y":-1811},{"k":9,"x":152.83e-6,"y":-1940},{"k":9,"x":155.96e-6,"y":-2134},{"k":9,"x":158.16e-6,"y":-2021},{"k":9,"x":160.98e-6,"y":-2182},{"k":9,"x":162.87e-6,"y":-2182},{"k":9,"x":166.32e-6,"y":-2295},{"k":9,"x":169.77e-6,"y":-2392},{"k":9,"x":174.48e-6,"y":-2343},{"k":9,"x":176.67e-6,"y":-2667},{"k":9,"x":179.81e-6,"y":-3038},{"k":9,"x":182.95e-6,"y":-3264},{"k":9,"x":187.34e-6,"y":-3474},{"k":9,"x":190.48e-6,"y":-3684},{"k":9,"x":193.62e-6,"y":-4007},{"k":9,"x":194.56e-6,"y":-3765},{"k":9,"x":196.76e-6,"y":-4007},{"k":9,"x":199.9e-6,"y":-4233},{"k":9,"x":201.78e-6,"y":-4491},{"k":9,"x":204.92e-6,"y":-4879},{"k":9,"x":208.06e-6,"y":-5299},{"k":9,"x":211.19e-6,"y":-5622},{"k":9,"x":214.33e-6,"y":-6058},{"k":9,"x":217.47e-6,"y":-6429},{"k":9,"x":219.67e-6,"y":-6542},{"k":9,"x":221.86e-6,"y":-6817},{"k":9,"x":225e-6,"y":-7237},{"k":9,"x":228.14e-6,"y":-7786},{"k":9,"x":231.28e-6,"y":-8206},{"k":9,"x":234.42e-6,"y":-8593},{"k":9,"x":236.3e-6,"y":-8851},{"k":9,"x":238.5e-6,"y":-9126},{"k":9,"x":240.69e-6,"y":-9401},{"k":9,"x":242.89e-6,"y":-9659},{"k":9,"x":244.77e-6,"y":-9287},{"k":9,"x":245.71e-6,"y":-8965},{"k":9,"x":246.97e-6,"y":-8755},{"k":9,"x":247.28e-6,"y":-8319},{"k":9,"x":247.91e-6,"y":-7786},{"k":9,"x":248.85e-6,"y":-7237},{"k":9,"x":250.11e-6,"y":-6704},{"k":9,"x":251.99e-6,"y":-4282},{"k":9,"x":254.19e-6,"y":-1859},{"k":9,"x":255.13e-6,"y":-777},{"k":9,"x":255.75e-6,"y":30},{"k":9,"x":256.38e-6,"y":724},{"k":9,"x":256.69e-6,"y":773},{"k":9,"x":257.95e-6,"y":563},{"k":9,"x":259.52e-6,"y":514},{"k":9,"x":262.66e-6,"y":531},{"k":9,"x":265.8e-6,"y":563},{"k":9,"x":266.74e-6,"y":595},{"k":9,"x":268.93e-6,"y":563},{"k":9,"x":270.82e-6,"y":563},
{"k":10,"x":0,"y":-519},{"k":10,"x":3.45e-6,"y":-519},{"k":10,"x":5.65e-6,"y":-890},{"k":10,"x":8.79e-6,"y":-1423},{"k":10,"x":10.98e-6,"y":-1908},{"k":10,"x":14.44e-6,"y":-2505},{"k":10,"x":20.4e-6,"y":-2828},{"k":10,"x":25.1e-6,"y":-3232},{"k":10,"x":31.38e-6,"y":-3555},{"k":10,"x":37.66e-6,"y":-3797},{"k":10,"x":47.07e-6,"y":-4120},{"k":10,"x":56.49e-6,"y":-4411},{"k":10,"x":65.9e-6,"y":-4718},{"k":10,"x":75.31e-6,"y":-5008},{"k":10,"x":82.53e-6,"y":-5364},{"k":10,"x":84.1e-6,"y":-5250},{"k":10,"x":85.67e-6,"y":-5299},{"k":10,"x":86.93e-6,"y":-5089},{"k":10,"x":87.87e-6,"y":-5525},{"k":10,"x":89.42e-6,"y":-5170},{"k":10,"x":91e-6,"y":-5412},{"k":10,"x":91.95e-6,"y":-4766},{"k":10,"x":93.2e-6,"y":-5299},{"k":10,"x":94.14e-6,"y":-4766},{"k":10,"x":95.08e-6,"y":-4233},{"k":10,"x":96.03e-6,"y":-4605},{"k":10,"x":97.28e-6,"y":-3959},{"k":10,"x":98.85e-6,"y":-4282},{"k":10,"x":100.42e-6,"y":-4007},{"k":10,"x":103.56e-6,"y":-3910},{"k":10,"x":105.75e-6,"y":-3846},{"k":10,"x":107.64e-6,"y":-4330},{"k":10,"x":109.83e-6,"y":-4233},{"k":10,"x":112.03e-6,"y":-4120},{"k":10,"x":113.91e-6,"y":-4330},{"k":10,"x":116.11e-6,"y":-4249},{"k":10,"x":118.31e-6,"y":-4395},{"k":10,"x":120.19e-6,"y":-4556},{"k":10,"x":122.39e-6,"y":-4718},{"k":10,"x":123.33e-6,"y":-4815},{"k":10,"x":124.58e-6,"y":-4556},{"k":10,"x":126.47e-6,"y":-4443},{"k":10,"x":129.6e-6,"y":-4395},{"k":10,"x":132.43e-6,"y":-3910},{"k":10,"x":134e-6,"y":-4443},{"k":10,"x":135.88e-6,"y":-4169},{"k":10,"x":138.08e-6,"y":-3749},{"k":10,"x":140.27e-6,"y":-3684},{"k":10,"x":143.41e-6,"y":-3587},{"k":10,"x":145.29e-6,"y":-3684},{"k":10,"x":147.49e-6,"y":-3636},{"k":10,"x":150e-6,"y":-3474},{"k":10,"x":152.83e-6,"y":-3587},{"k":10,"x":155.96e-6,"y":-3749},{"k":10,"x":159.1e-6,"y":-3684},{"k":10,"x":162.24e-6,"y":-3636},{"k":10,"x":165.38e-6,"y":-3797},{"k":10,"x":170.4e-6,"y":-4072},{"k":10,"x":174.79e-6,"y":-4072},{"k":10,"x":176.67e-6,"y":-4282},{"k":10,"x":179.81e-6,"y":-4395},{"k":10,"x":182.95e-6,"y":-4766},{"k":10,"x":187.34e-6,"y":-4976},{"k":10,"x":190.48e-6,"y":-5202},{"k":10,"x":193.62e-6,"y":-5460},{"k":10,"x":196.76e-6,"y":-5525},{"k":10,"x":199.9e-6,"y":-5848},{"k":10,"x":203.03e-6,"y":-6058},{"k":10,"x":206.17e-6,"y":-6381},{"k":10,"x":208.06e-6,"y":-6752},{"k":10,"x":210.25e-6,"y":-7188},{"k":10,"x":214.33e-6,"y":-7511},{"k":10,"x":218.73e-6,"y":-8109},{"k":10,"x":222.81e-6,"y":-8593},{"k":10,"x":226.88e-6,"y":-9126},{"k":10,"x":230.02e-6,"y":-9562},{"k":10,"x":233.16e-6,"y":-10046},{"k":10,"x":236.3e-6,"y":-10466},{"k":10,"x":239.44e-6,"y":-10854},{"k":10,"x":242.57e-6,"y":-11177},{"k":10,"x":245.71e-6,"y":-11338},{"k":10,"x":247.28e-6,"y":-11548},{"k":10,"x":248.54e-6,"y":-11112},{"k":10,"x":250.11e-6,"y":-10466},{"k":10,"x":251.05e-6,"y":-9401},{"k":10,"x":251.99e-6,"y":-8319},{"k":10,"x":252.93e-6,"y":-6704},{"k":10,"x":254.5e-6,"y":-2780},{"k":10,"x":256.69e-6,"y":-1423},{"k":10,"x":259.21e-6,"y":-777},{"k":10,"x":262.66e-6,"y":-777},{"k":10,"x":264.54e-6,"y":-681},{"k":10,"x":265.8e-6,"y":-842},{"k":10,"x":266.74e-6,"y":-939},{"k":10,"x":267.68e-6,"y":-729},{"k":10,"x":268.93e-6,"y":-681},{"k":10,"x":270.82e-6,"y":-648}
]
},
"data": {"name": "pts"},
"transform": [{"lookup": "k", "from": {"data": {"name": "names"}, "key": "k", "fields": ["name"]}}],
"layer": [
{
"mark": {"type": "line", "interpolate": "linear"},
"encoding": {
"x": {"field": "x", "type": "quantitative", "scale": {"domain": [0, 0.0003], "nice": false, "zero": false},
 "axis": {"orient": "bottom", "title": null, "values": [0, 0.00005, 0.0001, 0.00015, 0.0002, 0.00025, 0.0003], "labelExpr": "datum.value == 0.00005 ? '5x10\u207b\u2075' : '' + datum.value", "grid": false, "domain": false, "ticks": true, "tickSize": -12, "tickColor": "black", "tickWidth": 1, "labelPadding": 29, "labelFontSize": 26, "labelFont": "Liberation Sans", "labelColor": "black", "labelFlush": false, "labelOverlap": false, "labelBound": false}},
"y": {"field": "y", "type": "quantitative", "scale": {"domain": [-12000, 2000], "nice": false, "zero": false},
 "axis": {"orient": "left", "title": null, "values": [-12000, -10000, -8000, -6000, -4000, -2000, 0, 2000], "labelExpr": "'' + datum.value", "grid": false, "domain": false, "ticks": true, "tickSize": -12, "tickColor": "black", "tickWidth": 1, "labelPadding": 33, "labelFontSize": 26, "labelFont": "Liberation Sans", "labelColor": "black", "labelFlush": false, "labelOverlap": false, "labelBound": false}},
"color": {"field": "name", "type": "nominal",
 "scale": {"domain": [
"rcforc_slave_z_2,mars,ls971.rR11.2-26-gd2ace36.gmake.beaver.c,4",
"rcforc_slave_z_2,mars,ld971.rR11.2-26-gd2ace36.gmake.beaver.c,-4",
"rcforc_slave_z_2,mars,mpp971.rR11.2-26-gd2ace36.gmake.beaver.c,4",
"rcforc_slave_z_2,mars,mpd971.rR11.2-26-gd2ace36.gmake.beaver.c,4",
"rcforc_slave_z_2,dinar3b,ls971.rR11.2-26-gd2ace36.gmake.pgi.dinar3b.c,4",
"rcforc_slave_z_2,dinar3b,ld971.rR11.2-26-gd2ace36.gmake.pgi.dinar3b.c,-4",
"rcforc_slave_z_2,dinar3b,mpp971.rR11.2-26-gd2ace36.gmake.pgi.dinar3b.c,4",
"rcforc_slave_z_2,dinar3b,mpd971.rR11.2-26-gd2ace36.gmake.pgi.dinar3b.c,4",
"uperbound", "lowerbound"],
 "range": ["#9400d3", "#009e73", "#56b4e9", "#e69f00", "#f0e442", "#0072b2", "#e51e10", "#000000", "#9400d3", "#009e73"]},
 "legend": {"orient": "none", "legendX": 869, "legendY": 12, "title": null, "padding": 0, "rowPadding": 0.2,
  "symbolType": "M-10,0H10", "symbolSize": 64, "symbolStrokeWidth": 3, "symbolOpacity": 1,
  "labelAlign": "right", "labelOffset": -69, "labelFontSize": 28, "labelFont": "Liberation Sans", "labelColor": "black", "labelLimit": 2000,
  "encode": {"symbols": {"update": {"strokeWidth": {"signal": "datum.value === 'lowerbound' ? 1.5 : 3"}, "fill": {"value": "transparent"}}}}}},
"strokeWidth": {"condition": [{"test": "datum.k == 10", "value": 1.5}, {"test": "datum.k == 8", "value": 3.5}], "value": 3}
}
},
{
"transform": [{"filter": "datum.k == 8"}],
"mark": {"type": "point", "opacity": 0},
"encoding": {
"x": {"field": "x", "type": "quantitative", "axis": {"orient": "top", "title": null, "values": [0, 0.00005, 0.0001, 0.00015, 0.0002, 0.00025, 0.0003], "labels": false, "grid": false, "domain": false, "tickSize": -12, "tickColor": "black", "tickWidth": 1}},
"y": {"field": "y", "type": "quantitative", "axis": {"orient": "right", "title": null, "values": [-12000, -10000, -8000, -6000, -4000, -2000, 0, 2000], "labels": false, "grid": false, "domain": false, "tickSize": -12, "tickColor": "black", "tickWidth": 1}}
}
}
],
"resolve": {"axis": {"x": "independent", "y": "independent"}},
"config": {"font": "Liberation Sans", "view": {"stroke": "black", "strokeWidth": 1.5}}
}
